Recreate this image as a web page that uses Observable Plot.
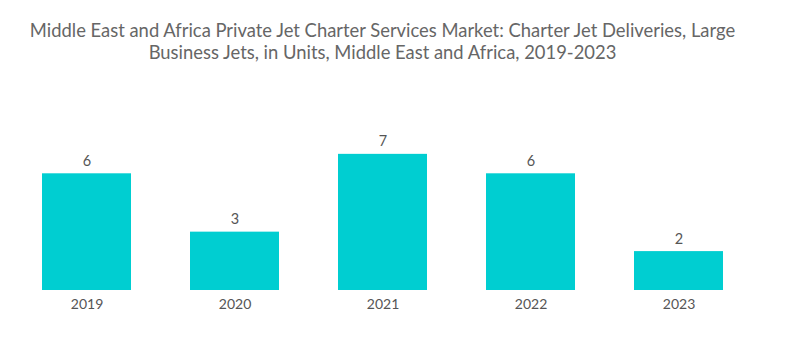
<!DOCTYPE html>
<html>
<head>
<meta charset="utf-8">
<script src="https://cdn.jsdelivr.net/npm/d3@7"></script>
<script src="https://cdn.jsdelivr.net/npm/@observablehq/plot@0.6"></script>
<style>
  body { margin: 0; background: #fff; font-family: Lato, "Open Sans", sans-serif; }
  #title { width: 765px; height: 70px; box-sizing: border-box; padding-top: 19px; text-align: center;
           color: #666; font-size: 18.4px; line-height: 22px; }
  #chart svg { display: block; }
</style>
</head>
<body>
<div id="title">Middle East and Africa Private Jet Charter Services Market: Charter Jet Deliveries, Large<br>Business Jets, in Units, Middle East and Africa, 2019-2023</div>
<div id="chart"></div>
<script>
const years = ["2019", "2020", "2021", "2022", "2023"];
const deliveries = [6, 3, 7, 6, 2];
const data = years.map((y, i) => ({year: y, value: deliveries[i]}));

const chart = Plot.plot({
  width: 789,
  height: 281,
  marginLeft: 12,
  marginRight: 37,
  marginTop: 25.5,
  marginBottom: 61,
  style: {fontFamily: "Lato, 'Open Sans', sans-serif", fontSize: "14px", color: "#555", background: "#fff"},
  x: {domain: years, paddingInner: 0.4, paddingOuter: 0.2, label: null, tickSize: 0, tickPadding: 9},
  y: {domain: [0, 10], axis: null},
  marks: [
    Plot.barY(data, {x: "year", y: "value", fill: "#00CED1"}),
    Plot.text(data, {x: "year", y: "value", text: d => String(d.value), dy: -8, lineAnchor: "bottom", fill: "#555", fontSize: 14.5})
  ]
});
document.getElementById("chart").appendChild(chart);
</script>
</body>
</html>
